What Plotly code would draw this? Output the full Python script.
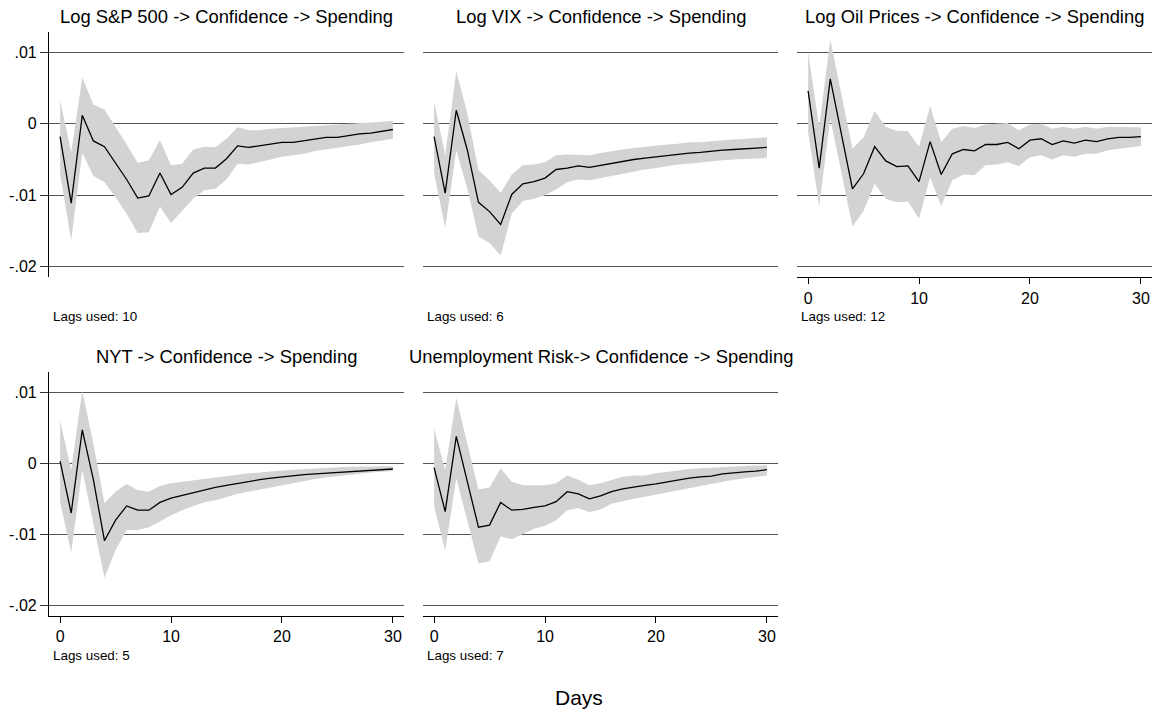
import plotly.graph_objects as go

days = list(range(31))

titles = [
    "Log S&P 500 -> Confidence -> Spending",
    "Log VIX -> Confidence -> Spending",
    "Log Oil Prices -> Confidence -> Spending",
    "NYT -> Confidence -> Spending",
    "Unemployment Risk-> Confidence -> Spending",
]
lags_notes = ["Lags used: 10", "Lags used: 6", "Lags used: 12", "Lags used: 5", "Lags used: 7"]

ytick_vals = [-0.02, -0.01, 0, 0.01]
ytick_text = ["-.02", "-.01", "0", ".01"]
xtick_vals = [0, 10, 20, 30]
xtick_text = ["0", "10", "20", "30"]

# Panel 1: Log S&P 500
sp_irf = [-0.0018, -0.0111, 0.0012, -0.0024, -0.0032, -0.0055, -0.0078, -0.0104, -0.0101, -0.0069,
          -0.0099, -0.0089, -0.0069, -0.0062, -0.0062, -0.0049, -0.0031, -0.0033, -0.0031, -0.0028,
          -0.0026, -0.0026, -0.0024, -0.0021, -0.0019, -0.0019, -0.0016, -0.0014, -0.0013, -0.0011, -0.0008]
sp_hi = [0.0033, -0.0040, 0.0065, 0.0027, 0.0020, -0.0004, -0.0029, -0.0055, -0.0051, -0.0023,
         -0.0058, -0.0056, -0.0036, -0.0032, -0.0033, -0.0021, -0.0005, -0.0009, -0.0009, -0.0007,
         -0.0006, -0.0006, -0.0005, -0.0004, -0.0002, -0.0001, 0.0000, 0.0001, 0.0002, 0.0003, 0.0004]
sp_lo = [-0.0070, -0.0163, -0.0041, -0.0073, -0.0082, -0.0103, -0.0126, -0.0153, -0.0152, -0.0116,
         -0.0139, -0.0122, -0.0105, -0.0093, -0.0091, -0.0078, -0.0056, -0.0057, -0.0054, -0.0050,
         -0.0046, -0.0044, -0.0042, -0.0038, -0.0036, -0.0033, -0.0031, -0.0029, -0.0026, -0.0024, -0.0021]

# Panel 2: Log VIX
vix_irf = [-0.0018, -0.0097, 0.0019, -0.0037, -0.0110, -0.0123, -0.0141, -0.0099, -0.0084, -0.0081,
           -0.0076, -0.0064, -0.0062, -0.0059, -0.0061, -0.0058, -0.0056, -0.0052, -0.0050, -0.0048,
           -0.0046, -0.0044, -0.0042, -0.0041, -0.0040, -0.0038, -0.0037, -0.0036, -0.0035, -0.0034, -0.0033]
vix_hi = [0.0031, -0.0044, 0.0074, 0.0014, -0.0065, -0.0079, -0.0097, -0.0071, -0.0058, -0.0057,
          -0.0054, -0.0044, -0.0043, -0.0043, -0.0044, -0.0041, -0.0038, -0.0036, -0.0034, -0.0032,
          -0.0030, -0.0029, -0.0028, -0.0026, -0.0026, -0.0024, -0.0023, -0.0022, -0.0021, -0.0020, -0.0019]
vix_lo = [-0.0069, -0.0146, -0.0037, -0.0091, -0.0158, -0.0167, -0.0184, -0.0126, -0.0108, -0.0105,
          -0.0100, -0.0092, -0.0082, -0.0078, -0.0079, -0.0076, -0.0072, -0.0069, -0.0067, -0.0064,
          -0.0062, -0.0059, -0.0057, -0.0056, -0.0054, -0.0053, -0.0051, -0.0050, -0.0049, -0.0048, -0.0048]

# Panel 3: Log Oil Prices
oil_irf = [0.0046, -0.0062, 0.0063, -0.0014, -0.0091, -0.0070, -0.0032, -0.0052, -0.0060, -0.0059,
           -0.0081, -0.0025, -0.0071, -0.0042, -0.0036, -0.0038, -0.0029, -0.0029, -0.0026, -0.0035,
           -0.0023, -0.0021, -0.0029, -0.0024, -0.0027, -0.0023, -0.0025, -0.0021, -0.0019, -0.0019, -0.0018]
oil_hi = [0.0101, -0.0004, 0.0118, 0.0042, -0.0035, -0.0019, 0.0018, -0.0004, -0.0010, -0.0010,
          -0.0032, 0.0025, -0.0026, -0.0007, -0.0003, -0.0006, -0.0001, 0.0000, 0.0001, -0.0009,
          -0.0001, 0.0000, -0.0007, -0.0004, -0.0007, -0.0004, -0.0007, -0.0004, -0.0005, -0.0005, -0.0005]
oil_lo = [-0.0011, -0.0115, 0.0007, -0.0070, -0.0144, -0.0122, -0.0084, -0.0105, -0.0110, -0.0109,
          -0.0133, -0.0075, -0.0115, -0.0079, -0.0071, -0.0072, -0.0058, -0.0057, -0.0054, -0.0059,
          -0.0047, -0.0044, -0.0050, -0.0044, -0.0046, -0.0042, -0.0042, -0.0037, -0.0035, -0.0033, -0.0031]

# Panel 4: NYT
nyt_irf = [0.0003, -0.0070, 0.0047, -0.0023, -0.0109, -0.0080, -0.0060, -0.0066, -0.0066, -0.0055,
           -0.0049, -0.0045, -0.0041, -0.0037, -0.0034, -0.0031, -0.0028, -0.0026, -0.0023, -0.0021,
           -0.0019, -0.0017, -0.0016, -0.0015, -0.0014, -0.0013, -0.0011, -0.0010, -0.0009, -0.0009, -0.0008]
nyt_hi = [0.0060, -0.0009, 0.0102, 0.0028, -0.0056, -0.0040, -0.0029, -0.0038, -0.0040, -0.0032,
          -0.0028, -0.0026, -0.0023, -0.0021, -0.0019, -0.0017, -0.0015, -0.0014, -0.0013, -0.0011,
          -0.0010, -0.0009, -0.0008, -0.0007, -0.0007, -0.0006, -0.0005, -0.0005, -0.0004, -0.0004, -0.0004]
nyt_lo = [-0.0054, -0.0126, -0.0009, -0.0085, -0.0161, -0.0122, -0.0094, -0.0094, -0.0090, -0.0082,
          -0.0073, -0.0066, -0.0061, -0.0055, -0.0052, -0.0047, -0.0043, -0.0040, -0.0037, -0.0033,
          -0.0030, -0.0027, -0.0024, -0.0022, -0.0020, -0.0018, -0.0016, -0.0014, -0.0013, -0.0012, -0.0011]

# Panel 5: Unemployment Risk
ur_irf = [-0.0006, -0.0068, 0.0038, -0.0026, -0.0090, -0.0087, -0.0055, -0.0066, -0.0065, -0.0062,
          -0.0060, -0.0054, -0.0040, -0.0043, -0.0050, -0.0046, -0.0040, -0.0036, -0.0033, -0.0031,
          -0.0029, -0.0026, -0.0023, -0.0021, -0.0019, -0.0018, -0.0015, -0.0013, -0.0012, -0.0011, -0.0009]
ur_hi = [0.0049, -0.0009, 0.0092, 0.0028, -0.0037, -0.0034, -0.0007, -0.0026, -0.0031, -0.0031,
         -0.0031, -0.0028, -0.0017, -0.0023, -0.0031, -0.0028, -0.0023, -0.0019, -0.0017, -0.0017,
         -0.0014, -0.0012, -0.0009, -0.0008, -0.0007, -0.0006, -0.0005, -0.0004, -0.0004, -0.0003, -0.0003]
ur_lo = [-0.0061, -0.0123, -0.0021, -0.0080, -0.0141, -0.0138, -0.0103, -0.0107, -0.0100, -0.0092,
         -0.0088, -0.0080, -0.0066, -0.0063, -0.0069, -0.0065, -0.0057, -0.0053, -0.0050, -0.0047,
         -0.0044, -0.0040, -0.0037, -0.0034, -0.0031, -0.0029, -0.0026, -0.0023, -0.0021, -0.0019, -0.0017]

panels = [
    (sp_irf, sp_lo, sp_hi),
    (vix_irf, vix_lo, vix_hi),
    (oil_irf, oil_lo, oil_hi),
    (nyt_irf, nyt_lo, nyt_hi),
    (ur_irf, ur_lo, ur_hi),
]

W, H = 1157, 713
FONT = "Liberation Sans, Arial, Helvetica, sans-serif"

# panel boxes in pixels: (left, right, top, bottom)
col_lr = [(49, 404), (423, 778), (797, 1152)]
row_tb = [(31.7, 277.3), (371.7, 616.0)]
boxes = [
    (col_lr[0], row_tb[0]),
    (col_lr[1], row_tb[0]),
    (col_lr[2], row_tb[0]),
    (col_lr[0], row_tb[1]),
    (col_lr[1], row_tb[1]),
]
show_x = [False, False, True, True, True]
show_y = [True, False, False, True, False]

fig = go.Figure()
layout = dict(
    width=W, height=H,
    margin=dict(l=0, r=0, t=0, b=0),
    paper_bgcolor="white", plot_bgcolor="white",
    showlegend=False,
    font=dict(family=FONT, color="black"),
)
annotations = []

for i, ((irf, lo, hi), ((l, r), (t, b))) in enumerate(zip(panels, boxes)):
    n = i + 1
    xa = "x" if n == 1 else f"x{n}"
    ya = "y" if n == 1 else f"y{n}"
    fig.add_trace(go.Scatter(x=days, y=lo, xaxis=xa, yaxis=ya, mode="lines",
                             line=dict(width=0, color="#d3d3d3"), hoverinfo="skip"))
    fig.add_trace(go.Scatter(x=days, y=hi, xaxis=xa, yaxis=ya, mode="lines",
                             line=dict(width=0, color="#d3d3d3"), fill="tonexty",
                             fillcolor="#d3d3d3", hoverinfo="skip"))
    fig.add_trace(go.Scatter(x=days, y=irf, xaxis=xa, yaxis=ya, mode="lines",
                             line=dict(width=1.3, color="black")))

    xdom = [l / W, r / W]
    ydom = [1 - b / H, 1 - t / H]
    xkey = "xaxis" if n == 1 else f"xaxis{n}"
    ykey = "yaxis" if n == 1 else f"yaxis{n}"
    layout[xkey] = dict(
        domain=xdom, anchor=ya, range=[-1, 31], showgrid=False, zeroline=False,
        showline=show_x[i], linecolor="black", linewidth=1.2,
        ticks="outside" if show_x[i] else "", ticklen=6, tickcolor="black", tickwidth=1,
        tickvals=xtick_vals, ticktext=xtick_text, showticklabels=show_x[i],
        tickfont=dict(size=16, family=FONT, color="black"),
    )
    layout[ykey] = dict(
        domain=ydom, anchor=xa, range=[-0.0215, 0.0129], showgrid=True,
        gridcolor="#555555", gridwidth=1.2, zeroline=False,
        showline=show_y[i], linecolor="black", linewidth=1.2,
        ticks="outside" if show_y[i] else "", ticklen=8, tickcolor="#333333", tickwidth=1.2,
        tickvals=ytick_vals, ticktext=ytick_text, showticklabels=show_y[i],
        tickfont=dict(size=16, family=FONT, color="black"),
    )
    # panel title
    annotations.append(dict(
        text=titles[i], xref="paper", yref="paper",
        x=(l + r) / 2 / W, y=1 - (t - 15) / H, xanchor="center", yanchor="middle",
        showarrow=False, font=dict(size=18.4, family=FONT, color="black"),
    ))
    # lags note
    annotations.append(dict(
        text=lags_notes[i], xref="paper", yref="paper",
        x=(l + 2) / W, y=1 - (b + 39) / H, xanchor="left", yanchor="middle",
        showarrow=False, font=dict(size=13.4, family=FONT, color="black"),
    ))

annotations.append(dict(
    text="Days", xref="paper", yref="paper", x=0.5, y=1 - 697 / H,
    xanchor="center", yanchor="middle", showarrow=False,
    font=dict(size=21, family=FONT, color="black"),
))
layout["annotations"] = annotations
fig.update_layout(**layout)
fig.write_html(
    "out.html",
    config={"displayModeBar": False},
    post_script="document.body.style.margin='0px';document.body.style.padding='0px';"
                "document.body.style.overflow='hidden';",
)
